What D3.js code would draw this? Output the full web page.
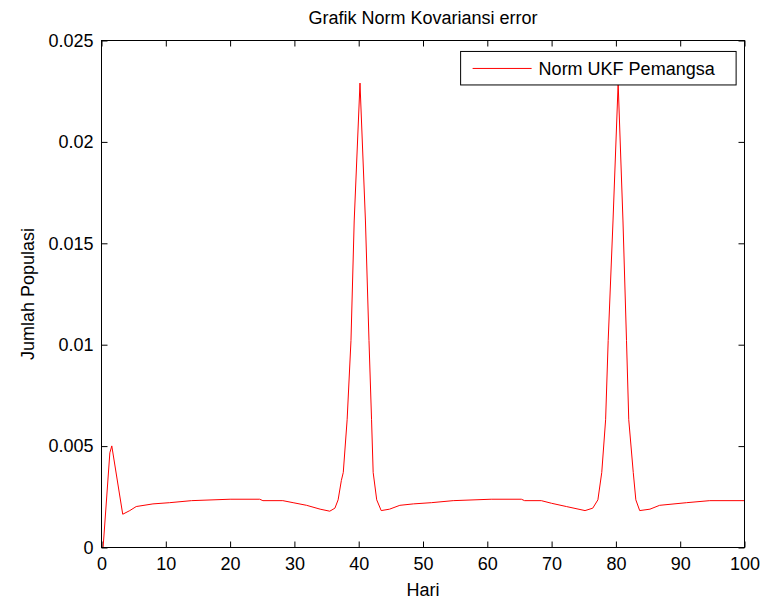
<!DOCTYPE html>
<html>
<head>
<meta charset="utf-8">
<script src="https://cdn.jsdelivr.net/npm/d3@7/dist/d3.min.js"></script>
<style>
  body { margin: 0; background: #fff; }
  svg { font-family: "Liberation Sans", Arial, Helvetica, sans-serif; }
</style>
</head>
<body>
<div id="chart"></div>
<script>
// values
const hari = [0.25, 1.3, 1.6, 3.3, 4.4, 5.4, 8, 10.6, 14, 20, 24.6, 25.1, 28.2, 29.8, 31.9, 34, 35.5, 36.3, 36.8, 37.3, 37.6, 38.2, 38.8, 39.3, 40.2,
  41.05, 41.6, 42.0, 42.25, 42.8, 43.5, 44.8, 46.4, 48.5, 51.3, 54.7, 60.6, 65.3, 65.8, 68.4, 70, 72.3, 75.2, 76.4, 77.2, 77.8, 78.4, 78.8,
  79.55, 80.35, 81.1, 81.65, 82.0, 82.7, 83.1, 83.7, 85.3, 86.8, 91, 94.6, 100];
const normUKF = [0, 0.00467, 0.00501, 0.00164, 0.00182, 0.00202, 0.00215, 0.00221, 0.00231, 0.00238, 0.00238, 0.00231, 0.00231, 0.00221, 0.00208, 0.00189, 0.00179, 0.00194, 0.00235, 0.0033, 0.0037, 0.0063, 0.0102, 0.0161, 0.0229,
  0.0161, 0.0102, 0.0063, 0.0037, 0.00235, 0.00182, 0.00189, 0.00208, 0.00215, 0.00221, 0.00231, 0.00238, 0.00238, 0.00231, 0.00231, 0.00218, 0.00202, 0.00182, 0.00194, 0.00235, 0.0037, 0.0063, 0.0102,
  0.0161, 0.0229, 0.0161, 0.0102, 0.0063, 0.0037, 0.00235, 0.00182, 0.00189, 0.00208, 0.00221, 0.00231, 0.00231];
const xTicks = [0, 10, 20, 30, 40, 50, 60, 70, 80, 90, 100];
const yTicks = [0, 0.005, 0.01, 0.015, 0.02, 0.025];
const seriesName = "Norm UKF Pemangsa";

const width = 761, height = 602;
const margin = { top: 40.5, right: 16.5, bottom: 54.5, left: 101.5 };
const w = width - margin.left - margin.right;
const h = height - margin.top - margin.bottom;
const tickLen = 6;
const fontSize = "18px";

const svg = d3.select("#chart").append("svg")
    .attr("width", width)
    .attr("height", height);

const x = d3.scaleLinear().domain([0, 100]).range([0, w]);
const y = d3.scaleLinear().domain([0, 0.025]).range([h, 0]);
const fmt = d3.format("~g");

const g = svg.append("g")
    .attr("transform", `translate(${margin.left},${margin.top})`);

// curve
const line = d3.line()
    .x(function (d) { return x(d[0]); })
    .y(function (d) { return y(d[1]); });
g.append("path")
    .datum(d3.zip(hari, normUKF))
    .attr("fill", "none")
    .attr("stroke", "#ff0000")
    .attr("stroke-width", 1)
    .attr("d", line);

// axes, ticks inward on all four sides
function axisStyle(sel) {
    sel.select(".domain").remove();
    sel.selectAll("line").attr("stroke", "#000");
    sel.selectAll("text")
        .attr("fill", "#000")
        .style("font-size", fontSize)
        .style("font-family", "'Liberation Sans', Arial, sans-serif");
}

g.append("g")
    .attr("transform", `translate(0,${h})`)
    .call(d3.axisBottom(x).tickValues(xTicks).tickFormat(fmt).tickSizeInner(-tickLen).tickSizeOuter(0).tickPadding(10))
    .call(axisStyle);
g.append("g")
    .call(d3.axisTop(x).tickValues(xTicks).tickFormat("").tickSizeInner(-tickLen).tickSizeOuter(0))
    .call(axisStyle);
g.append("g")
    .call(d3.axisLeft(y).tickValues(yTicks).tickFormat(fmt).tickSizeInner(-tickLen).tickSizeOuter(0).tickPadding(8))
    .call(axisStyle);
g.append("g")
    .attr("transform", `translate(${w},0)`)
    .call(d3.axisRight(y).tickValues(yTicks).tickFormat("").tickSizeInner(-tickLen).tickSizeOuter(0))
    .call(axisStyle);

g.append("rect")
    .attr("width", w)
    .attr("height", h)
    .attr("fill", "none")
    .attr("stroke", "#000");

// legend
const lg = g.append("g")
    .attr("transform", `translate(${x(55.85)},${y(0.02446)})`);
lg.append("rect")
    .attr("width", 275.5)
    .attr("height", 33.5)
    .attr("fill", "#fff")
    .attr("stroke", "#000");
lg.append("line")
    .attr("x1", 12).attr("x2", 71)
    .attr("y1", 17).attr("y2", 17)
    .attr("stroke", "#ff0000");
lg.append("text")
    .attr("x", 78)
    .attr("y", 23.5)
    .style("font-size", fontSize)
    .text(seriesName);

// titles
svg.append("text")
    .attr("x", margin.left + w / 2)
    .attr("y", 24)
    .attr("text-anchor", "middle")
    .style("font-size", fontSize)
    .text("Grafik Norm Kovariansi error");
svg.append("text")
    .attr("x", margin.left + w / 2)
    .attr("y", 596)
    .attr("text-anchor", "middle")
    .style("font-size", fontSize)
    .text("Hari");
svg.append("text")
    .attr("transform", `translate(34,${margin.top + h / 2}) rotate(-90)`)
    .attr("text-anchor", "middle")
    .style("font-size", fontSize)
    .text("Jumlah Populasi");
</script>
</body>
</html>
